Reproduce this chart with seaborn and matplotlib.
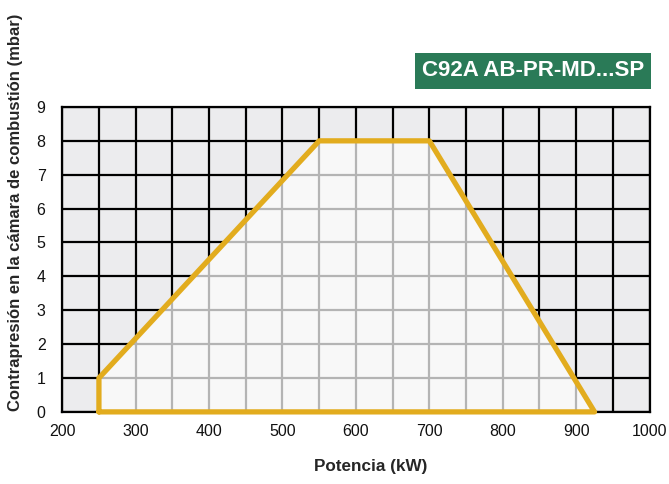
import matplotlib
matplotlib.use("Agg")
import matplotlib.pyplot as plt
import numpy as np
import pandas as pd
import seaborn as sns
from matplotlib.patches import Polygon

# working field outline (kW, mbar)
potencia = [250, 250, 550, 700, 925, 250]
presion = [0, 1, 8, 8, 0, 0]
x_ticks = [200, 300, 400, 500, 600, 700, 800, 900, 1000]
y_ticks = [0, 1, 2, 3, 4, 5, 6, 7, 8, 9]
titulo = "C92A AB-PR-MD...SP"

sns.set_theme(style="ticks")
plt.rcParams["font.family"] = ["Liberation Sans", "DejaVu Sans"]

GOLD = "#e2ac1e"
GREEN = "#2a7a57"

fig = plt.figure(figsize=(6.69, 4.84), dpi=100)
ax = fig.add_axes([0.093, 0.149, 0.878, 0.630])
ax.set_facecolor("#ececee")

ax.set_xlim(200, 1000)
ax.set_ylim(0, 9)
xg = np.arange(200, 1001, 50)
yg = np.arange(0, 10, 1)

# black grid outside
ax.vlines(xg, 0, 9, colors="black", lw=1.6, zorder=1)
ax.hlines(yg, 200, 1000, colors="black", lw=1.6, zorder=1)

# polygon fill + light grid inside
poly = Polygon(np.column_stack([potencia, presion]), closed=True,
               facecolor="#f8f8f8", edgecolor="none", zorder=2)
ax.add_patch(poly)
v = ax.vlines(xg, 0, 9, colors="#b4b4b4", lw=1.6, zorder=3)
h = ax.hlines(yg, 200, 1000, colors="#b4b4b4", lw=1.6, zorder=3)
v.set_clip_path(poly)
h.set_clip_path(poly)

df = pd.DataFrame({"Potencia": potencia, "Presion": presion})
sns.lineplot(data=df, x="Potencia", y="Presion", sort=False, estimator=None,
             color=GOLD, lw=3.8, ax=ax, zorder=7, clip_on=False,
             solid_joinstyle="round", solid_capstyle="round")

for s in ax.spines.values():
    s.set_color("black")
    s.set_linewidth(1.6)
    s.set_zorder(6)

ax.set_xticks(x_ticks)
ax.set_yticks(y_ticks)
ax.tick_params(axis="both", length=0, labelsize=11.5, colors="#111111")
ax.tick_params(axis="x", pad=9)
ax.tick_params(axis="y", pad=12)
ax.set_xlabel("Potencia (kW)", fontsize=12.3, fontweight="bold", va="center")
ax.set_ylabel("Contrapresión en la cámara de combustión (mbar)", fontsize=12,
              fontweight="bold", va="center")
ax.xaxis.set_label_coords(0.526, -0.180)
ax.yaxis.set_label_coords(-0.080, 0.656)

fig.text(0.963, 1 - 71 / 484, titulo, ha="right", va="center", color="white",
         fontsize=16, fontweight="bold",
         bbox=dict(boxstyle="square,pad=0.32", facecolor=GREEN, edgecolor="none"))

fig.savefig("out.png", dpi=100)
